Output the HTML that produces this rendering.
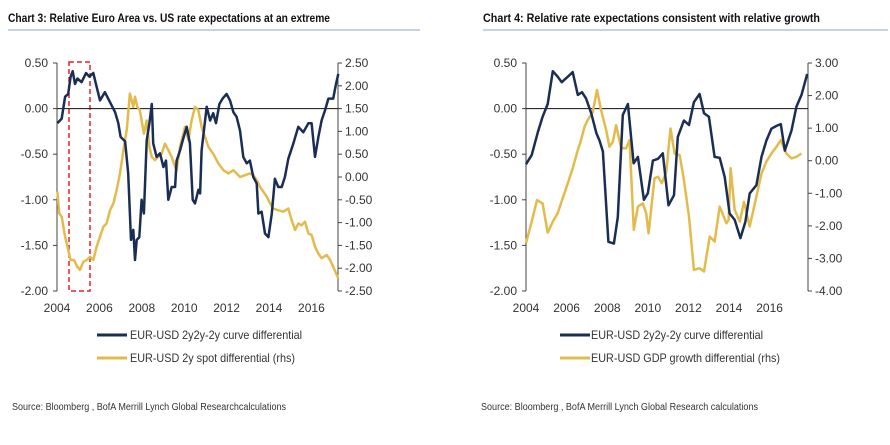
<!DOCTYPE html>
<html><head><meta charset="utf-8"><style>
body{margin:0;background:#fff;width:890px;height:440px;overflow:hidden;font-family:"Liberation Sans",sans-serif}
svg text{font-family:"Liberation Sans",sans-serif;fill:#333}
</style></head><body>
<svg id="s" width="890" height="440">
<text x="8" y="22" font-size="12" font-weight="bold" style="fill:#111" textLength="322" lengthAdjust="spacingAndGlyphs">Chart 3: Relative Euro Area vs. US rate expectations at an extreme</text>
<line x1="8" y1="30" x2="420" y2="30" stroke="#8fa3c8" stroke-width="1"/>
<text x="483" y="22" font-size="12" font-weight="bold" style="fill:#111" textLength="337" lengthAdjust="spacingAndGlyphs">Chart 4: Relative rate expectations consistent with relative growth</text>
<line x1="483" y1="30" x2="888" y2="30" stroke="#8fa3c8" stroke-width="1"/>
<rect x="69" y="62" width="21" height="229" fill="none" stroke="#e8202a" stroke-width="1.5" stroke-dasharray="5,3"/>
<g>
<line x1="97" y1="335" x2="127" y2="335" stroke="#1a2e55" stroke-width="3"/><text x="130" y="339" font-size="12" textLength="172" lengthAdjust="spacingAndGlyphs">EUR-USD 2y2y-2y curve differential</text>
<line x1="97" y1="358" x2="127" y2="358" stroke="#e3bb4d" stroke-width="3"/><text x="130" y="362" font-size="12" textLength="165" lengthAdjust="spacingAndGlyphs">EUR-USD 2y spot differential (rhs)</text>
</g>
<text x="12" y="410" font-size="10" textLength="274" lengthAdjust="spacingAndGlyphs">Source: Bloomberg , BofA Merrill Lynch Global Researchcalculations</text>
<g>
<line x1="560" y1="335" x2="590" y2="335" stroke="#1a2e55" stroke-width="3"/><text x="591" y="339" font-size="12" textLength="172" lengthAdjust="spacingAndGlyphs">EUR-USD 2y2y-2y curve differential</text>
<line x1="560" y1="358" x2="590" y2="358" stroke="#e3bb4d" stroke-width="3"/><text x="591" y="362" font-size="12" textLength="189" lengthAdjust="spacingAndGlyphs">EUR-USD GDP growth differential (rhs)</text>
</g>
<text x="481" y="410" font-size="10" textLength="277" lengthAdjust="spacingAndGlyphs">Source: Bloomberg , BofA Merrill Lynch Global Research calculations</text>
</svg>
<script>
const xTicks=[2004,2006,2008,2010,2012,2014,2016];
const leftTicks=[0.5,0,-0.5,-1,-1.5,-2];
const c3RightTicks=[2.5,2,1.5,1,0.5,0,-0.5,-1,-1.5,-2,-2.5];
const c4RightTicks=[3,2,1,0,-1,-2,-3,-4];
const c3BlueYears=[2004.02,2004.22,2004.38,2004.53,2004.64,2004.74,2004.85,2004.96,2005.16,2005.37,2005.53,2005.71,2005.87,2006.03,2006.26,2006.5,2006.74,2006.89,2007.0,2007.21,2007.36,2007.49,2007.6,2007.68,2007.76,2007.88,2007.99,2008.1,2008.23,2008.36,2008.47,2008.54,2008.7,2008.86,2009.02,2009.14,2009.25,2009.41,2009.57,2009.64,2009.8,2009.93,2010.12,2010.27,2010.4,2010.51,2010.67,2010.75,2010.82,2010.93,2011.06,2011.22,2011.37,2011.5,2011.66,2011.81,2012.0,2012.16,2012.32,2012.47,2012.63,2012.79,2012.95,2013.1,2013.26,2013.42,2013.5,2013.65,2013.81,2013.97,2014.13,2014.28,2014.44,2014.6,2014.75,2014.91,2015.15,2015.38,2015.62,2015.86,2016.01,2016.17,2016.33,2016.48,2016.64,2016.8,2017.03,2017.16,2017.27];
const c3BlueValues=[-0.16,-0.11,0.13,0.16,0.35,0.41,0.27,0.33,0.29,0.39,0.35,0.39,0.24,0.09,0.18,0.07,-0.04,-0.16,-0.31,-0.36,-0.71,-1.44,-1.33,-1.66,-1.44,-1.41,-1.0,-1.15,-0.35,-0.16,0.05,-0.38,-0.53,-0.49,-0.64,-0.57,-1.0,-0.86,-0.86,-0.57,-0.46,-0.35,-0.2,-0.38,-1.0,-1.04,-0.89,-0.93,-0.46,-0.24,0.02,-0.13,-0.05,-0.16,0.05,0.11,0.16,0.09,-0.04,-0.09,-0.24,-0.53,-0.6,-0.57,-0.75,-0.82,-1.15,-1.13,-1.37,-1.41,-1.15,-0.77,-0.86,-0.86,-0.75,-0.55,-0.38,-0.2,-0.26,-0.16,-0.16,-0.53,-0.31,-0.13,-0.02,0.11,0.11,0.27,0.38];
const c3GoldYears=[2004.02,2004.11,2004.22,2004.38,2004.53,2004.64,2004.8,2004.96,2005.08,2005.24,2005.4,2005.56,2005.71,2005.87,2006.03,2006.19,2006.34,2006.5,2006.66,2006.81,2006.97,2007.13,2007.29,2007.44,2007.6,2007.68,2007.79,2007.91,2007.99,2008.1,2008.23,2008.36,2008.47,2008.62,2008.78,2008.94,2009.09,2009.25,2009.41,2009.57,2009.64,2009.8,2009.96,2010.04,2010.2,2010.35,2010.51,2010.67,2010.82,2010.98,2011.14,2011.37,2011.61,2011.85,2012.08,2012.32,2012.47,2012.63,2012.87,2013.1,2013.26,2013.42,2013.58,2013.73,2013.89,2014.05,2014.2,2014.44,2014.68,2014.91,2015.07,2015.23,2015.38,2015.54,2015.7,2015.86,2016.01,2016.17,2016.33,2016.48,2016.72,2016.88,2017.03,2017.16,2017.27];
const c3GoldValues=[-0.32,-0.8,-0.87,-1.31,-1.6,-1.82,-1.82,-1.97,-2.04,-1.86,-1.82,-1.75,-1.82,-1.53,-1.31,-1.09,-1.02,-0.73,-0.58,-0.29,0.08,0.59,1.03,1.83,1.54,1.76,1.54,1.46,1.24,0.95,1.24,0.66,0.44,0.37,0.44,0.51,0.73,0.59,0.44,0.22,0.15,0.66,0.95,1.1,0.81,1.24,1.54,1.46,1.1,0.88,0.66,0.51,0.3,0.15,0.08,0.15,0.08,0.0,0.04,0.08,0.04,-0.07,-0.22,-0.32,-0.43,-0.58,-0.69,-0.73,-0.76,-0.69,-0.95,-1.16,-1.02,-1.06,-0.98,-1.24,-1.27,-1.53,-1.68,-1.78,-1.71,-1.82,-1.97,-2.11,-2.22];
const c4BlueYears=[2004.0,2004.28,2004.58,2004.82,2005.07,2005.32,2005.56,2005.76,2006.06,2006.3,2006.55,2006.76,2006.96,2007.21,2007.47,2007.62,2007.79,2008.06,2008.33,2008.52,2008.77,2009.02,2009.3,2009.51,2009.81,2010.0,2010.25,2010.5,2010.74,2011.02,2011.29,2011.48,2011.78,2012.03,2012.27,2012.55,2012.77,2013.01,2013.29,2013.54,2013.79,2014.03,2014.28,2014.56,2014.81,2015.02,2015.35,2015.6,2015.84,2016.09,2016.34,2016.55,2016.75,2017.08,2017.32,2017.57,2017.85];
const c4BlueValues=[-0.61,-0.51,-0.26,-0.09,0.05,0.41,0.35,0.29,0.35,0.4,0.15,0.18,0.11,-0.05,-0.27,-0.35,-0.47,-1.46,-1.48,-1.19,-0.07,0.05,-0.6,-0.53,-1.0,-0.93,-0.57,-0.55,-0.49,-1.06,-0.95,-0.31,-0.13,-0.18,0.07,0.16,-0.05,-0.09,-0.53,-0.54,-0.75,-1.15,-1.22,-1.42,-1.24,-0.93,-0.84,-0.53,-0.35,-0.22,-0.19,-0.17,-0.46,-0.24,0.02,0.15,0.38];
const c4GoldYears=[2004.0,2004.28,2004.54,2004.82,2005.07,2005.32,2005.56,2005.81,2006.06,2006.3,2006.55,2006.71,2006.88,2007.04,2007.29,2007.5,2007.7,2007.95,2008.11,2008.28,2008.44,2008.69,2008.93,2009.1,2009.31,2009.51,2009.76,2009.92,2010.04,2010.33,2010.5,2010.69,2010.91,2011.12,2011.32,2011.57,2011.78,2012.03,2012.27,2012.55,2012.77,2013.05,2013.29,2013.54,2013.87,2013.98,2014.08,2014.28,2014.53,2014.74,2015.02,2015.35,2015.6,2015.84,2016.09,2016.34,2016.55,2016.83,2017.08,2017.32,2017.57];
const c4GoldValues=[-2.53,-1.87,-1.21,-1.31,-2.21,-1.87,-1.61,-1.15,-0.69,-0.23,0.33,0.63,1.04,1.25,1.5,2.17,1.55,0.94,0.43,0.58,1.09,0.38,0.38,0.63,-2.12,-1.41,-1.31,-1.61,-2.23,-0.54,-0.49,-0.69,-0.34,0.99,0.22,0.17,-0.59,-1.72,-3.35,-3.3,-3.4,-2.33,-2.48,-1.41,-1.92,-1.82,-0.23,-1.51,-1.87,-1.26,-2.02,-1.1,-0.39,-0.03,0.22,0.43,0.63,0.22,0.07,0.12,0.22];

const NS='http://www.w3.org/2000/svg';
const svg=document.getElementById('s');
function mk(tag,attrs,parent){const e=document.createElementNS(NS,tag);for(const k in attrs)e.setAttribute(k,attrs[k]);(parent||svg).appendChild(e);return e;}
function fmt(v){return v.toFixed(2);}
function drawChart(id,o){
  const g=mk('g',{});
  
  
  const top=63,bot=291;
  const x=y=>o.x0+(y-2004)*o.pxYear;
  const yl=v=>top+(0.5-v)/2.5*(bot-top);
  const yr=v=>top+(o.rMax-v)/(o.rMax-o.rMin)*(bot-top);
  const la=mk('line',{x1:o.x0,y1:top,x2:o.x0,y2:bot,stroke:'#444','stroke-width':1},g);
  
  
  const ra=mk('line',{x1:o.xr,y1:top,x2:o.xr,y2:bot,stroke:'#444','stroke-width':1},g);
  
  
  const zl=mk('line',{x1:o.x0,y1:yl(0),x2:o.xr,y2:yl(0),stroke:'#111','stroke-width':1},g);
  
  
  leftTicks.forEach(v=>{mk('line',{x1:o.x0-4,y1:yl(v),x2:o.x0,y2:yl(v),stroke:'#444'},g);
    const t=mk('text',{x:o.x0-9,y:yl(v)+4,'font-size':12,'text-anchor':'end'},g);t.textContent=fmt(v);
    
    });
  o.rTicks.forEach(v=>{mk('line',{x1:o.xr,y1:yr(v),x2:o.xr+4,y2:yr(v),stroke:'#444'},g);
    const t=mk('text',{x:o.xr+7,y:yr(v)+4,'font-size':12},g);t.textContent=fmt(v);
    
    });
  xTicks.forEach(yv=>{const t=mk('text',{x:x(yv),y:312,'font-size':12,'text-anchor':'middle'},g);t.textContent=yv;
    
    });
  const gp=mk('polyline',{points:o.gy.map((yv,i)=>x(yv).toFixed(1)+','+yr(o.gv[i]).toFixed(1)).join(' '),fill:'none',stroke:'#e3bb4d','stroke-width':2.5,'stroke-linejoin':'round'},g);
  
  
  const bp=mk('polyline',{points:o.by.map((yv,i)=>x(yv).toFixed(1)+','+yl(o.bv[i]).toFixed(1)).join(' '),fill:'none',stroke:'#1a2e55','stroke-width':2.5,'stroke-linejoin':'round'},g);
  
  
}
drawChart('chart3',{x0:57,xr:338,pxYear:21.2,rMax:2.5,rMin:-2.5,rTicks:c3RightTicks,by:c3BlueYears,bv:c3BlueValues,gy:c3GoldYears,gv:c3GoldValues});
drawChart('chart4',{x0:526,xr:808,pxYear:20.3,rMax:3,rMin:-4,rTicks:c4RightTicks,by:c4BlueYears,bv:c4BlueValues,gy:c4GoldYears,gv:c4GoldValues});
</script>
</body></html>
